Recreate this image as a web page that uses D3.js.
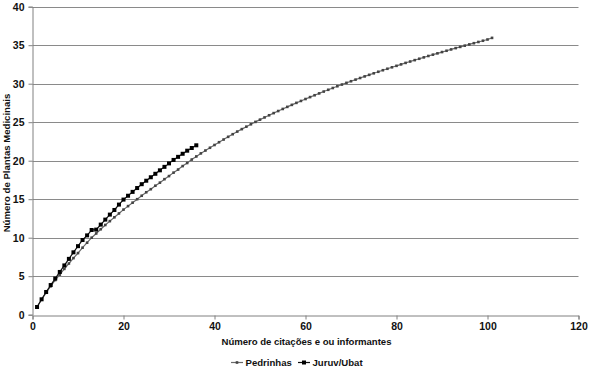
<!DOCTYPE html>
<html><head><meta charset="utf-8">
<script src="https://cdn.jsdelivr.net/npm/d3@7"></script>
<style>body{margin:0;background:#fff}svg{display:block;font-family:"Liberation Sans",Arial,sans-serif}</style>
</head><body>
<svg id="c" width="590" height="370"></svg>
<script>
const pedrinhasX = d3.range(1, 102);
const pedrinhasY = [1.0,1.95,2.85,3.7,4.5,5.2,5.95,6.65,7.35,8.0,8.7,9.35,10.0,10.55,11.1,11.65,12.15,12.65,13.15,13.65,
14.1,14.55,15.0,15.45,15.9,16.3,16.75,17.15,17.6,18.0,18.45,18.85,19.3,19.7,20.15,20.55,20.95,21.32,21.68,22.04,
22.4,22.75,23.1,23.44,23.78,24.1,24.42,24.73,25.04,25.33,25.62,25.9,26.18,26.45,26.72,26.99,27.25,27.51,27.76,28.01,
28.26,28.5,28.74,28.98,29.21,29.44,29.67,29.89,30.11,30.32,30.53,30.74,30.95,31.15,31.35,31.55,31.75,31.94,32.13,32.32,
32.51,32.7,32.88,33.06,33.24,33.42,33.6,33.77,33.94,34.11,34.28,34.45,34.62,34.78,34.94,35.1,35.26,35.42,35.58,35.74,35.95];
const juruvX = d3.range(1, 37);
const juruvY = [1,2,2.95,3.85,4.7,5.55,6.4,7.25,8.1,8.9,9.7,10.3,11.0,11.05,11.7,12.35,13.0,13.6,14.3,14.95,
15.45,15.95,16.45,16.95,17.4,17.85,18.3,18.75,19.2,19.65,20.1,20.5,20.9,21.3,21.65,22.0];
const xTicks = [0,20,40,60,80,100,120];
const yTicks = [0,5,10,15,20,25,30,35,40];
const seriesNames = ["Pedrinhas","Juruv/Ubat"];

const FONT = "'Liberation Sans',Arial,sans-serif";
const svg = d3.select("#c");
const x = d3.scaleLinear().domain([0,120]).range([32.5,578.5]);
const y = d3.scaleLinear().domain([0,40]).range([314.7,6.7]);

// gridlines
svg.append("g").selectAll("line").data(yTicks.filter(d=>d>0)).join("line")
  .attr("x1",x(0)).attr("x2",x(120)).attr("y1",d=>Math.round(y(d))+0.5).attr("y2",d=>Math.round(y(d))+0.5)
  .attr("stroke","#8a8a8a").attr("stroke-width",1);

// axes
const ya = svg.append("g").attr("transform",`translate(${x(0)},0)`)
  .call(d3.axisLeft(y).tickValues(yTicks).tickSize(4).tickPadding(4));
const xa = svg.append("g").attr("transform",`translate(0,${Math.round(y(0))+0.5})`)
  .call(d3.axisBottom(x).tickValues(xTicks).tickSize(4).tickPadding(3));
[ya,xa].forEach(g=>{
  g.select(".domain").attr("stroke","#808080");
  g.selectAll(".tick line").attr("stroke","#808080");
  g.selectAll("text").attr("font-size",10.5).attr("font-weight","bold").attr("fill","#111")
   .attr("font-family",FONT);
});

// lines
const line = d3.line().x(d=>x(d[0])).y(d=>y(d[1]));
const pData = pedrinhasX.map((v,i)=>[v,pedrinhasY[i]]);
const jData = juruvX.map((v,i)=>[v,juruvY[i]]);
svg.append("path").datum(pData).attr("d",line).attr("fill","none").attr("stroke","#6a6a6a").attr("stroke-width",1.2);
svg.append("g").selectAll("rect").data(pData).join("rect")
  .attr("x",d=>x(d[0])-1.3).attr("y",d=>y(d[1])-1.3).attr("width",2.6).attr("height",2.6).attr("fill","#444");
svg.append("path").datum(jData).attr("d",line).attr("fill","none").attr("stroke","#111").attr("stroke-width",1.2);
svg.append("g").selectAll("rect").data(jData).join("rect")
  .attr("x",d=>x(d[0])-2).attr("y",d=>y(d[1])-2).attr("width",4).attr("height",4).attr("fill","#000");

// titles
svg.append("text").attr("x",306.5).attr("y",344.5).attr("text-anchor","middle").attr("textLength",170)
  .attr("font-size",9.6).attr("font-weight","bold").attr("fill","#111").text("Número de citações e ou informantes");
svg.append("text").attr("transform","translate(10,163) rotate(-90)").attr("text-anchor","middle")
  .attr("font-size",9.6).attr("font-weight","bold").attr("fill","#111").text("Número de Plantas Medicinais");

// legend
const leg = [{n:seriesNames[0],x0:231,c:"#6a6a6a",s:2.6,f:"#444"},{n:seriesNames[1],x0:298,c:"#111",s:4,f:"#000"}];
const lg = svg.append("g");
leg.forEach(l=>{
  lg.append("line").attr("x1",l.x0).attr("x2",l.x0+12).attr("y1",362.5).attr("y2",362.5).attr("stroke",l.c).attr("stroke-width",1.2);
  lg.append("rect").attr("x",l.x0+6-l.s/2).attr("y",362.5-l.s/2).attr("width",l.s).attr("height",l.s).attr("fill",l.f);
  lg.append("text").attr("x",l.x0+14.5).attr("y",366).attr("font-size",9.6).attr("font-weight","bold").attr("fill","#111").text(l.n);
});
</script>
</body></html>
